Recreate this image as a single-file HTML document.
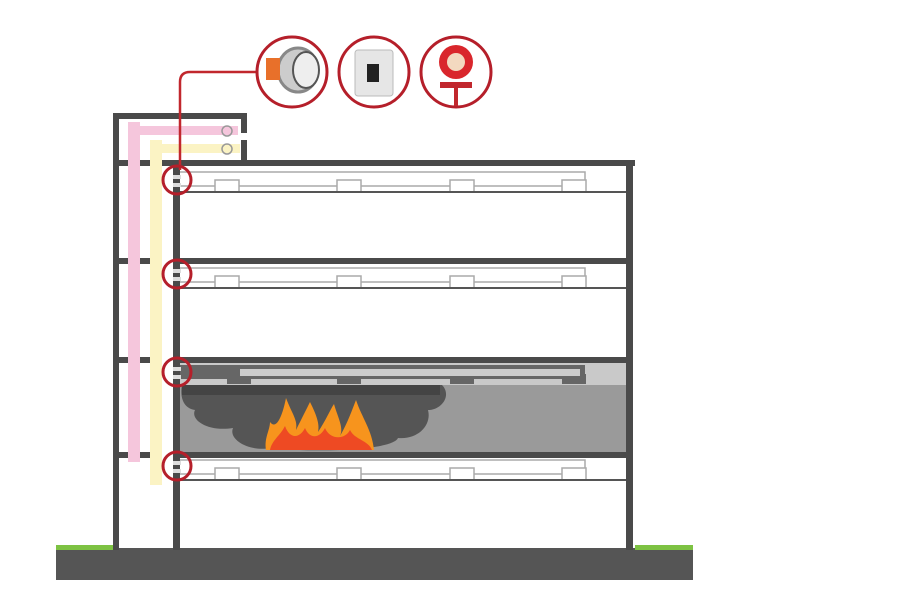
<!DOCTYPE html>
<html><head><style>html,body{margin:0;padding:0;background:#fff}svg{display:block}</style></head>
<body>
<svg width="900" height="600" viewBox="0 0 900 600" xmlns="http://www.w3.org/2000/svg">
<rect width="900" height="600" fill="#fff"/>
<rect x="56" y="548" width="637" height="32" fill="#555"/>
<rect x="56" y="545" width="58" height="5" fill="#7dc243"/>
<rect x="635" y="545" width="58" height="5" fill="#7dc243"/>
<rect x="180" y="363" width="446" height="89" fill="#9a9a9a"/>
<rect x="180" y="363" width="446" height="22" fill="#c9c9c9"/>
<g fill="#555">
<path d="M182 385 L442 385 C452 395 442 410 428 410 C432 425 418 440 398 438 C392 452 300 452 270 448 C250 452 228 440 233 428 C208 432 190 420 195 410 C182 408 180 395 182 385Z"/>
</g>
<rect x="182" y="385" width="258" height="10" fill="#444"/>
<path d="M266 450 C264 438 270 430 270 422 C276 430 282 418 286 398 C292 414 298 420 296 430 C302 418 306 410 310 402 C316 414 320 424 318 432 C326 420 330 410 334 404 C338 418 344 428 340 436 C348 422 352 410 356 400 C362 418 372 430 374 450Z" fill="#f7941d"/>
<path d="M270 450 C272 440 280 436 285 426 C290 440 300 438 305 428 C310 440 320 438 325 428 C330 440 345 440 350 430 C355 440 368 440 372 450Z" fill="#ee4a23"/>
<g fill="#4a4a4a">
<rect x="113" y="113" width="134" height="6"/>
<rect x="113" y="113" width="6" height="437"/>
<rect x="241" y="113" width="6" height="20"/>
<rect x="241" y="140" width="6" height="20"/>
<rect x="113" y="160" width="522" height="6"/>
<rect x="173" y="160" width="7" height="390"/>
<rect x="626" y="160" width="7" height="390"/>
<rect x="173" y="258" width="460" height="6"/>
<rect x="173" y="357" width="460" height="6"/>
<rect x="173" y="452" width="460" height="6"/>
<rect x="119" y="258" width="10" height="6"/><rect x="140" y="258" width="10" height="6"/>
<rect x="119" y="357" width="10" height="6"/><rect x="140" y="357" width="10" height="6"/>
<rect x="119" y="452" width="10" height="6"/><rect x="140" y="452" width="10" height="6"/>
</g>
<rect x="128" y="122" width="12" height="340" fill="#f5c6dc"/>
<rect x="128" y="126" width="110" height="9" fill="#f5c6dc"/>
<rect x="150" y="140" width="12" height="345" fill="#fbf3c4"/>
<rect x="150" y="144" width="90" height="9" fill="#fbf3c4"/>
<circle cx="227" cy="131" r="5" fill="none" stroke="#999" stroke-width="1.5"/>
<circle cx="227" cy="149" r="5" fill="none" stroke="#999" stroke-width="1.5"/>
<g id="duct" fill="#fff" stroke="#aaa" stroke-width="1.5">
<path d="M180 172 L585 172 L585 186 L180 186"/>
<rect x="215" y="180" width="24" height="12"/>
<rect x="337" y="180" width="24" height="12"/>
<rect x="450" y="180" width="24" height="12"/>
<rect x="562" y="180" width="24" height="12"/>
<line x1="180" y1="192" x2="626" y2="192" stroke="#555" stroke-width="2"/>
</g>
<use href="#duct" y="96"/>
<use href="#duct" y="288"/>
<g fill="#666">
<rect x="180" y="365" width="405" height="14"/>
<rect x="227" y="374" width="24" height="10"/><rect x="337" y="374" width="24" height="10"/>
<rect x="450" y="374" width="24" height="10"/><rect x="562" y="374" width="24" height="10"/>
</g>
<rect x="240" y="369" width="340" height="7" fill="#ccc"/>
<path d="M262 72 L190 72 Q180 72 180 82 L180 170" fill="none" stroke="#c1272d" stroke-width="2.5"/>
<g fill="none" stroke="#b51f2a" stroke-width="3">
<circle cx="177" cy="180" r="14"/><circle cx="177" cy="274" r="14"/>
<circle cx="177" cy="372" r="14"/><circle cx="177" cy="466" r="14"/>
</g>
<g fill="#ddd"><rect x="173" y="175" width="8" height="4"/><rect x="173" y="183" width="8" height="4"/>
<rect x="173" y="269" width="8" height="4"/><rect x="173" y="277" width="8" height="4"/>
<rect x="173" y="367" width="8" height="4"/><rect x="173" y="375" width="8" height="4"/>
<rect x="173" y="461" width="8" height="4"/><rect x="173" y="469" width="8" height="4"/></g>
<g fill="#fff" stroke="#b51f2a" stroke-width="3">
<circle cx="292" cy="72" r="35"/><circle cx="374" cy="72" r="35"/><circle cx="456" cy="72" r="35"/>
</g>
<ellipse cx="298" cy="70" rx="20" ry="22" fill="#ccc" stroke="#888" stroke-width="3"/>
<ellipse cx="306" cy="70" rx="13" ry="18" fill="#eee" stroke="#555" stroke-width="2"/>
<rect x="266" y="58" width="14" height="22" fill="#e8702a"/>
<rect x="355" y="50" width="38" height="46" rx="3" fill="#e6e6e6" stroke="#bbb"/>
<rect x="367" y="64" width="12" height="18" fill="#222"/>
<circle cx="456" cy="62" r="17" fill="#d9262c"/>
<circle cx="456" cy="62" r="9" fill="#f3d9c0"/>
<rect x="440" y="82" width="32" height="6" fill="#c1272d"/>
<rect x="454" y="88" width="4" height="18" fill="#c1272d"/>
</svg>
</body></html>
